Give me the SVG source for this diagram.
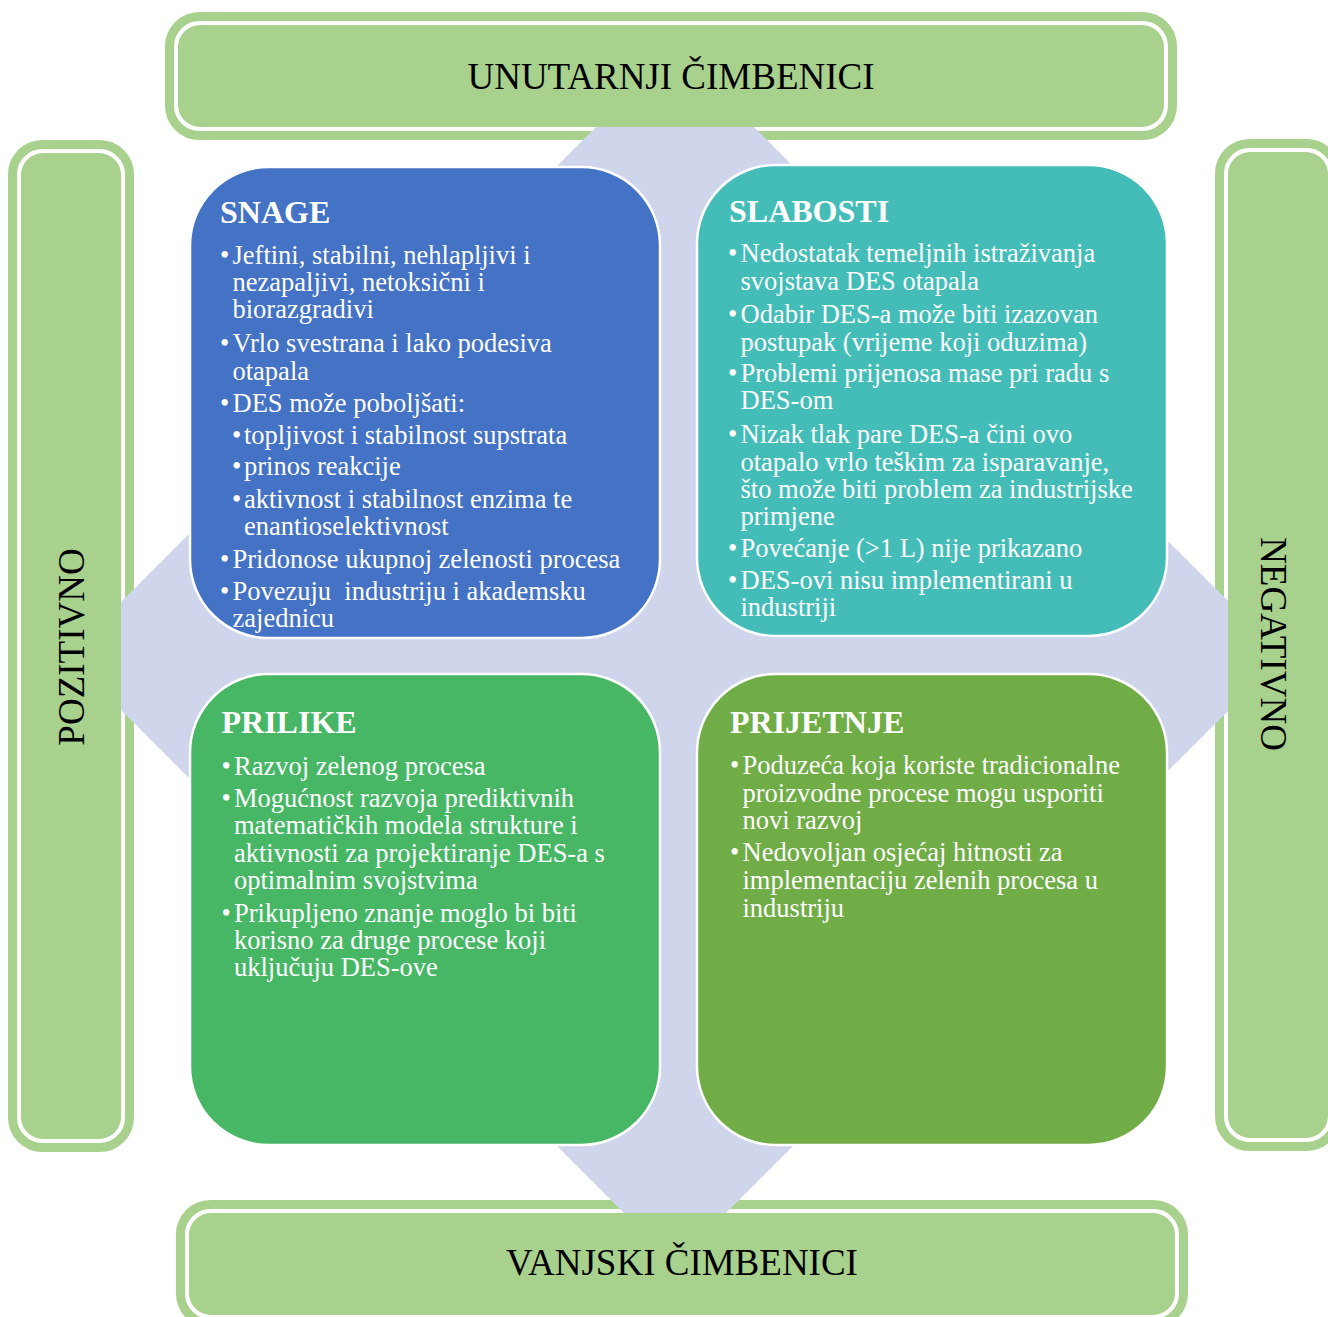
<svg xmlns="http://www.w3.org/2000/svg" width="1328" height="1317" viewBox="0 0 1328 1317">
<style>
.ring{fill:none;stroke:#A9D18E;stroke-width:9}
.inner{fill:#A9D18E}
.lbl{font-family:"Liberation Serif","Times New Roman",serif;font-size:37px;fill:#000}
.box{stroke:#fff;stroke-width:2.5}
.t{font-family:"Liberation Serif","Times New Roman",serif;font-size:26.5px;fill:#fff}
.h{font-family:"Liberation Serif","Times New Roman",serif;font-size:32px;font-weight:bold;fill:#fff}
</style>
<rect width="1328" height="1317" fill="#fff"/>
<g id="rings">
<rect class="ring" x="169.5" y="16.5" width="1003" height="119" rx="30"/>
<rect class="ring" x="180.5" y="1204.5" width="1003" height="119" rx="30"/>
<rect class="ring" x="12.5" y="144.5" width="117" height="1003" rx="30"/>
<rect class="ring" x="1219.5" y="143.5" width="117" height="1003" rx="30"/>
</g>
<polygon id="background" points="675,48 1283,656 675,1264 67,656" fill="#CFD5EA"/>
<g id="unutarnji">
<rect class="inner" x="178" y="25" width="986" height="102" rx="22"/>
<text class="lbl" x="671" y="89" text-anchor="middle">UNUTARNJI ČIMBENICI</text>
</g>
<g id="vanjski">
<rect class="inner" x="189" y="1213" width="986" height="102" rx="22"/>
<text class="lbl" x="682" y="1275" text-anchor="middle">VANJSKI ČIMBENICI</text>
</g>
<g id="pozitivno">
<rect class="inner" x="21" y="153" width="100" height="986" rx="22"/>
<text class="lbl" transform="translate(84,647) rotate(-90)" text-anchor="middle">POZITIVNO</text>
</g>
<g id="negativno">
<rect class="inner" x="1228" y="152" width="100" height="986" rx="22"/>
<text class="lbl" transform="translate(1261,644) rotate(90)" text-anchor="middle">NEGATIVNO</text>
</g>
<g id="snage">
<rect class="box" x="190" y="167" width="470" height="471" rx="78.5" fill="#4472C4"/>
<text class="h" x="220" y="223">SNAGE</text>
<g class="t">
<text x="220" y="264">•</text><text x="232.5" y="264">Jeftini, stabilni, nehlapljivi i</text>
<text x="232.5" y="291">nezapaljivi, netoksični i</text>
<text x="232.5" y="318">biorazgradivi</text>
<text x="220" y="351.5">•</text><text x="232.5" y="351.5">Vrlo svestrana i lako podesiva</text>
<text x="232.5" y="380">otapala</text>
<text x="220" y="411.5">•</text><text x="232.5" y="411.5">DES može poboljšati:</text>
<text x="232" y="443.5">•</text><text x="244" y="443.5">topljivost i stabilnost supstrata</text>
<text x="232" y="475">•</text><text x="244" y="475">prinos reakcije</text>
<text x="232" y="508">•</text><text x="244" y="508">aktivnost i stabilnost enzima te</text>
<text x="244" y="535">enantioselektivnost</text>
<text x="220" y="568">•</text><text x="232.5" y="568">Pridonose ukupnoj zelenosti procesa</text>
<text x="220" y="600">•</text><text x="232.5" y="600" xml:space="preserve">Povezuju  industriju i akademsku</text>
<text x="232.5" y="627">zajednicu</text>
</g>
</g>
<g id="slabosti">
<rect class="box" x="697" y="165" width="470" height="471" rx="78.5" fill="#44BDB8"/>
<text class="h" x="729" y="221.5">SLABOSTI</text>
<g class="t">
<text x="728" y="261.5">•</text><text x="740.5" y="261.5">Nedostatak temeljnih istraživanja</text>
<text x="740.5" y="290">svojstava DES otapala</text>
<text x="728" y="323">•</text><text x="740.5" y="323">Odabir DES-a može biti izazovan</text>
<text x="740.5" y="350.5">postupak (vrijeme koji oduzima)</text>
<text x="728" y="381.5">•</text><text x="740.5" y="381.5">Problemi prijenosa mase pri radu s</text>
<text x="740.5" y="409">DES-om</text>
<text x="728" y="442.5">•</text><text x="740.5" y="442.5">Nizak tlak pare DES-a čini ovo</text>
<text x="740.5" y="470.5">otapalo vrlo teškim za isparavanje,</text>
<text x="740.5" y="498">što može biti problem za industrijske</text>
<text x="740.5" y="525">primjene</text>
<text x="728" y="556.5">•</text><text x="740.5" y="556.5">Povećanje (&gt;1 L) nije prikazano</text>
<text x="728" y="589">•</text><text x="740.5" y="589">DES-ovi nisu implementirani u</text>
<text x="740.5" y="616">industriji</text>
</g>
</g>
<g id="prilike">
<rect class="box" x="190" y="674" width="470" height="471" rx="78.5" fill="#47B766"/>
<text class="h" x="221.5" y="732.5">PRILIKE</text>
<g class="t">
<text x="221.5" y="775">•</text><text x="234" y="775">Razvoj zelenog procesa</text>
<text x="221.5" y="806.5">•</text><text x="234" y="806.5">Mogućnost razvoja prediktivnih</text>
<text x="234" y="834">matematičkih modela strukture i</text>
<text x="234" y="861.5">aktivnosti za projektiranje DES-a s</text>
<text x="234" y="889">optimalnim svojstvima</text>
<text x="221.5" y="921.5">•</text><text x="234" y="921.5">Prikupljeno znanje moglo bi biti</text>
<text x="234" y="949">korisno za druge procese koji</text>
<text x="234" y="976">uključuju DES-ove</text>
</g>
</g>
<g id="prijetnje">
<rect class="box" x="697" y="674" width="470" height="471" rx="78.5" fill="#70AD47"/>
<text class="h" x="730" y="732.5">PRIJETNJE</text>
<g class="t">
<text x="730" y="774">•</text><text x="742.5" y="774">Poduzeća koja koriste tradicionalne</text>
<text x="742.5" y="801.5">proizvodne procese mogu usporiti</text>
<text x="742.5" y="828.5">novi razvoj</text>
<text x="730" y="861">•</text><text x="742.5" y="861">Nedovoljan osjećaj hitnosti za</text>
<text x="742.5" y="889">implementaciju zelenih procesa u</text>
<text x="742.5" y="916.5">industriju</text>
</g>
</g>
<g id="connectors"/>
</svg>
